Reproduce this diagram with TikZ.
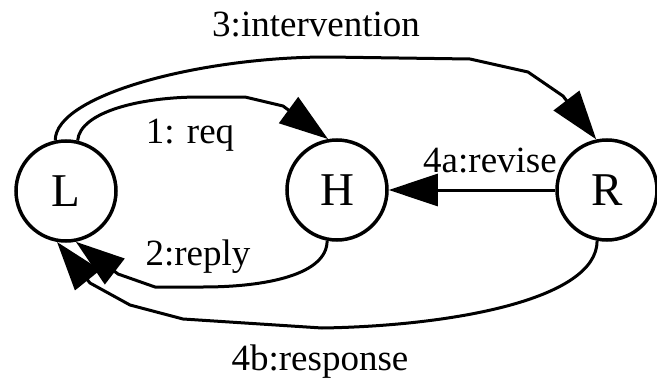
\documentclass[tikz,border=0pt]{standalone}
\usepackage{fontspec}
\setmainfont{Liberation Serif}
\usetikzlibrary{arrows.meta}
\begin{document}
\begin{tikzpicture}[x=1pt,y=-1pt,
  state/.style={circle, draw, line width=3.5pt, minimum size=100pt, inner sep=0pt, font=\fontsize{47}{50}\selectfont},
  edge/.style={line width=3pt, -{Triangle[length=49pt,width=32pt]}, line join=round},
  elabel/.style={anchor=base, inner sep=0pt, font=\fontsize{37}{40}\selectfont}]
\useasboundingbox (0,0) rectangle (657,380);
\node[state] (L) at (66,191) {L};
\node[state] (H) at (337,190) {H};
\node[state] (R) at (607,190) {R};
\draw[edge] (L.77) .. controls (80,112) and (140,97) .. (200,97) -- (245,97) -- (283,106) -- (H.100);
\draw[edge] (L.102) .. controls (55,95) and (200,57) .. (328,57) -- (470,59) -- (528,72) -- (563,96) -- (R.102);
\draw[edge] (H.259) .. controls (327,275) and (265,287) .. (203,287) -- (155,287) -- (118,274) -- (L.281);
\draw[edge] (R.259) .. controls (597,300) and (450,326) .. (322,328) -- (183,319) -- (130,305) -- (90,283) -- (L.260);
\draw[edge] (R) -- (H);
\node[elabel] (l1) at (190,143) {1: req};
\node[elabel] (l2) at (198,265) {2:reply};
\node[elabel] (l3) at (316,37) {3:intervention};
\node[elabel] (l4a) at (490,172) {4a:revise};
\node[elabel] (l4b) at (320,370) {4b:response};
\end{tikzpicture}
\end{document}
